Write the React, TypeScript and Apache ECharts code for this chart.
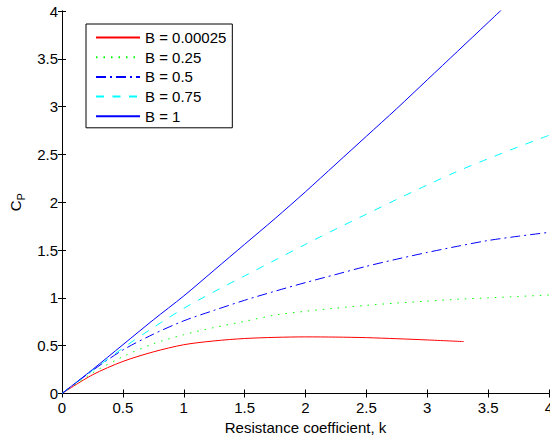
import React, { useEffect, useRef } from "react";
import * as echarts from "echarts";

const kValues = [0, 0.25, 0.5, 0.75, 1, 1.25, 1.5, 1.75, 2, 2.25, 2.5, 2.75, 3, 3.25, 3.5, 3.75, 4];
const kRed = [0, 0.25, 0.5, 0.75, 1, 1.25, 1.5, 1.75, 2, 2.25, 2.5, 2.75, 3, 3.3];

const cpB000025 = [0, 0.195, 0.335, 0.435, 0.51, 0.55, 0.575, 0.587, 0.592, 0.59, 0.584, 0.573, 0.56, 0.543];
const cpB025 = [0, 0.215, 0.385, 0.52, 0.615, 0.69, 0.755, 0.82, 0.86, 0.893, 0.922, 0.946, 0.966, 0.985, 1.0, 1.015, 1.03];
const cpB05 = [0, 0.24, 0.455, 0.62, 0.76, 0.87, 0.975, 1.07, 1.16, 1.245, 1.33, 1.405, 1.475, 1.54, 1.6, 1.645, 1.685];
const cpB075 = [0, 0.24, 0.475, 0.69, 0.89, 1.065, 1.23, 1.395, 1.56, 1.72, 1.875, 2.03, 2.18, 2.325, 2.455, 2.58, 2.7];
const cpB1 = [0, 0.25, 0.51, 0.77, 1.02, 1.29, 1.56, 1.83, 2.11, 2.4, 2.69, 2.98, 3.28, 3.58, 3.88, 4.18];

const seriesNames = ["B = 0.00025", "B = 0.25", "B = 0.5", "B = 0.75", "B = 1"];
const xTitle = "Resistance coefficient, k";

const FONT = "'Liberation Sans', Arial, Helvetica, sans-serif";

function pairs(xs: number[], ys: number[]) {
  return ys.map((y, i) => [xs[i], y]);
}

export default function App() {
  const ref = useRef<HTMLDivElement>(null);
  useEffect(() => {
    if (!ref.current) return;
    const chart = echarts.init(ref.current, null, { renderer: "svg" });
    const axisCommon = {
      type: "value" as const,
      min: 0,
      max: 4,
      interval: 0.5,
      splitLine: { show: false },
      axisLine: { show: true, lineStyle: { color: "#000", width: 1 } },
      axisTick: { show: true, inside: true, length: 4, lineStyle: { color: "#000" } },
    };
    const mk = (name: string, xs: number[], ys: number[], color: string, type: any) => ({
      name,
      type: "line",
      data: pairs(xs, ys),
      symbol: "none",
      smooth: 0.3,
      clip: true,
      lineStyle: { color, width: 1, type },
      itemStyle: { color },
      xAxisIndex: 0,
      yAxisIndex: 0,
    });
    chart.setOption({
      animation: false,
      backgroundColor: "#fff",
      textStyle: { fontFamily: FONT },
      grid: { left: 62, top: 11, right: 1, bottom: 43.5, containLabel: false, outerBoundsMode: "none" },
      legend: {
        orient: "vertical",
        left: 86,
        top: 24,
        itemWidth: 44,
        itemHeight: 15,
        itemGap: 4.7,
        padding: [6, 6, 4, 9],
        borderColor: "#000",
        borderWidth: 1,
        borderRadius: 0,
        backgroundColor: "#fff",
        itemStyle: { opacity: 0 },
        textStyle: { fontSize: 15, color: "#000", fontFamily: FONT, lineHeight: 15 },
        data: seriesNames,
      },
      xAxis: [
        {
          ...axisCommon,
          position: "bottom",
          name: xTitle,
          nameLocation: "middle",
          nameGap: 26,
          nameTextStyle: { fontSize: 15, color: "#000", fontFamily: FONT },
          axisLabel: { fontSize: 15, color: "#000", margin: 6, fontFamily: FONT },
        },
        {
          ...axisCommon,
          position: "top",
          axisLabel: { show: false },
        },
      ],
      yAxis: [
        {
          ...axisCommon,
          position: "left",
          name: "{c|C}{p|P}",
          nameLocation: "middle",
          nameGap: 36,
          nameRotate: 90,
          nameTextStyle: {
            color: "#000",
            fontFamily: FONT,
            rich: {
              c: { fontSize: 15, fontFamily: FONT, color: "#000", lineHeight: 17, verticalAlign: "top" },
              p: { fontSize: 11, fontFamily: FONT, color: "#000", lineHeight: 12, padding: [9, 0, 0, 0] },
            },
          },
          axisLabel: { fontSize: 15, color: "#000", margin: 4, fontFamily: FONT },
        },
        {
          ...axisCommon,
          position: "right",
          axisLabel: { show: false },
        },
      ],
      series: [
        mk(seriesNames[0], kRed, cpB000025, "#ff0000", "solid"),
        mk(seriesNames[1], kValues, cpB025, "#00ff00", [1.5, 6]),
        mk(seriesNames[2], kValues, cpB05, "#0000ff", [10, 4, 2, 4]),
        mk(seriesNames[3], kValues, cpB075, "#00ffff", [8, 8.5]),
        mk(seriesNames[4], kValues, cpB1, "#0000ff", "solid"),
      ],
    });
    return () => chart.dispose();
  }, []);
  return (
    <div
      ref={ref}
      style={{ position: "fixed", left: 0, top: 0, width: 550, height: 437, background: "#fff" }}
    />
  );
}
